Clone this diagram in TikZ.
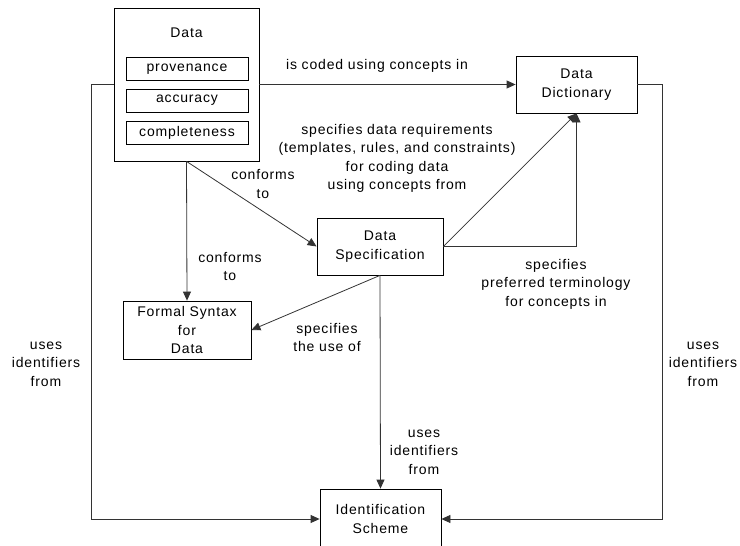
\documentclass[tikz,border=0pt]{standalone}
\usepackage{fontspec}
\setmainfont{Liberation Sans}[LetterSpace=6]
\usepackage{tikz}
\usepackage{xcolor}
\usetikzlibrary{arrows.meta}
\tikzstyle{box}=[draw, line width=0.8pt, inner sep=0pt, align=center, font=\fontsize{14}{18.5}\selectfont]
\tikzstyle{lbl}=[inner sep=0pt, align=center, font=\fontsize{14}{18.5}\selectfont]
\tikzstyle{conn}=[line width=0.8pt, black!80]
\tikzstyle{arr}=[conn, ->, >={Triangle[length=9pt,width=8pt]}]

\begin{document}
\begin{tikzpicture}[x=1pt, y=-1pt]
      \useasboundingbox (0,0) rectangle (740,546);
      % boxes
      \node[box, minimum width=145pt, minimum height=153pt] (data) at (186.5,84.5) {};
      \node[lbl] (datatitle) at (186.5,33) {Data};
      \node[box, minimum width=122pt, minimum height=23pt] (prov) at (187,69) {provenance};
      \node[box, minimum width=122pt, minimum height=23pt] (acc) at (187,100.5) {accuracy};
      \node[box, minimum width=122pt, minimum height=23pt] (compl) at (187,132.5) {completeness};
      \node[box, minimum width=121pt, minimum height=57pt] (dict) at (576.5,84.5) {Data\\Dictionary};
      \node[box, minimum width=126pt, minimum height=57pt] (spec) at (380,246.5) {Data\\Specification};
      \node[box, minimum width=128pt, minimum height=58pt] (fsyn) at (187,330) {Formal Syntax\\for\\Data};
      \node[box, minimum width=121pt, minimum height=60pt] (ident) at (380.5,519) {Identification\\Scheme};
      \coordinate (lcorner) at (91,84.5);
      \coordinate (rcorner) at (662,84.5);
      % connectors
      \draw [arr] (data.east) -- (dict.west);
      \draw [arr] (data.west) -- (lcorner) |- (ident.west);
      \draw [arr] (dict.east) -- (rcorner) |- (ident.east);
      \draw [arr] (data.south) -- (spec.west);
      \draw [arr] (data.south) -- (fsyn.north);
      \draw [arr] (spec.east) -- (dict.south);
      \draw [arr] (spec.east) -| (dict.south);
      \draw [arr] (spec.south) -- (fsyn.east);
      \draw [arr] (spec.south) -- (ident.north);
      % labels
      \node[lbl] (codedlbl) at (377,66) {is coded using concepts in};
      \node[lbl] (reqlbl) at (397,158.5) {specifies data requirements\\(templates, rules, and constraints)\\for coding data\\using concepts from};
      \node[lbl] (preflbl) at (556,284) {specifies\\preferred terminology\\for concepts in};
      \node[lbl] (confspec) at (263,184) {conforms\\to};
      \node[lbl] (confsyn) at (230,266.5) {conforms\\to};
      \node[lbl] (uselbl) at (327,337.5) {specifies\\the use of};
      \node[lbl] (idmid) at (424,452) {uses\\identifiers\\from};
      \node[lbl] (idleft) at (46,364) {uses\\identifiers\\from};
      \node[lbl] (idright) at (703,364) {uses\\identifiers\\from};
    \end{tikzpicture}
\end{document}
